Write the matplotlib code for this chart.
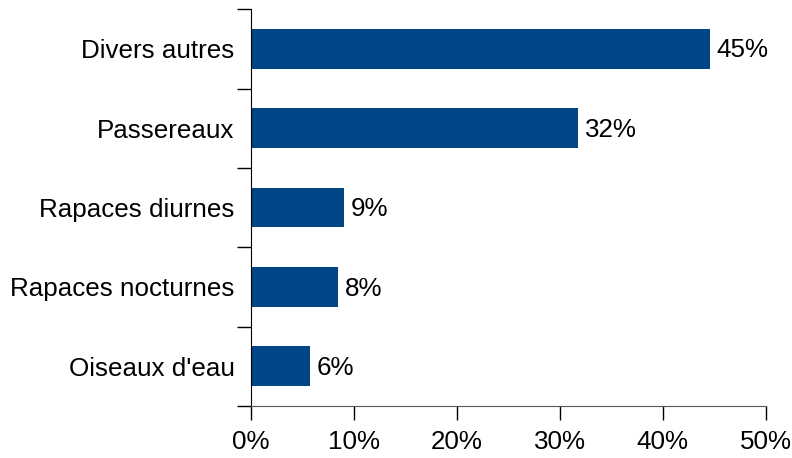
import matplotlib.pyplot as plt
import numpy as np

plt.rcParams['font.family'] = ['Liberation Sans', 'DejaVu Sans']

categories = ["Oiseaux d'eau", "Rapaces nocturnes", "Rapaces diurnes", "Passereaux", "Divers autres"]
values = [5.75, 8.45, 9.0, 31.8, 44.55]
labels = ["6%", "8%", "9%", "32%", "45%"]
xticks = [0, 10, 20, 30, 40, 50]

BAR_COLOR = '#004586'
FS = 18.7

fig = plt.figure(figsize=(7.92, 4.58), dpi=100)
ax = fig.add_axes([0.317, 0.1135, 0.6498, 0.8665])

y = np.arange(len(categories))
ax.barh(y, values, height=0.5, color=BAR_COLOR)
for yi, v, lab in zip(y, values, labels):
    ax.text(v + 0.65, yi - 0.02, lab, va='center', ha='left', fontsize=FS, color='black')

ax.set_xlim(0, 50)
ax.set_ylim(-0.5, len(categories) - 0.5)

ax.set_xticks(xticks)
ax.set_xticklabels(['%d%%' % t for t in xticks], fontsize=FS)
ax.tick_params(axis='x', direction='out', length=10, width=1, pad=7)

# category labels on minor ticks, tick marks at boundaries
ax.set_yticks(np.arange(-0.5, len(categories), 1))
ax.set_yticklabels([])
ax.set_yticks(y, minor=True)
ax.set_yticklabels(categories, minor=True, fontsize=FS)
ax.tick_params(axis='y', which='major', direction='out', length=10, width=1)
ax.tick_params(axis='y', which='minor', length=0, pad=12)

for s in ['top', 'right']:
    ax.spines[s].set_visible(False)
ax.spines['left'].set_color('black')
ax.spines['bottom'].set_color('#555555')

fig.savefig('out.png', dpi=100)
